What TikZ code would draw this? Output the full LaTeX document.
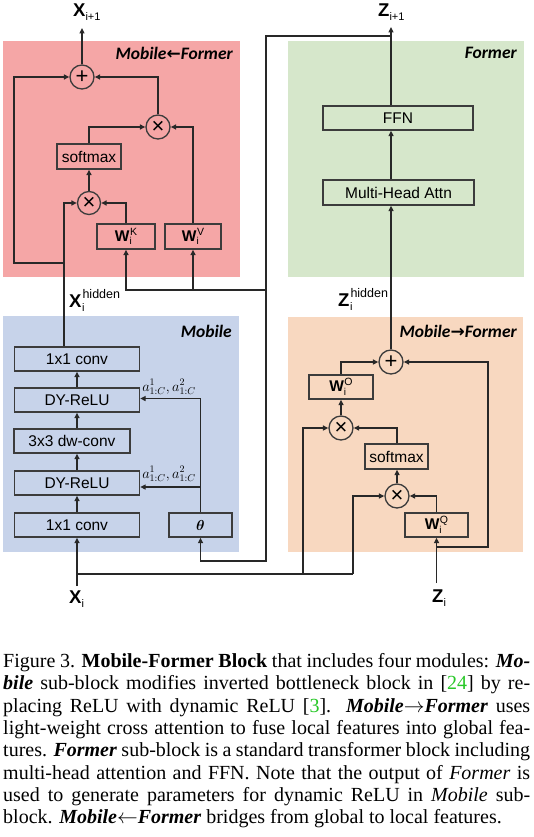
\documentclass[tikz,border=0pt]{standalone}
\usepackage{fontspec}
\setmainfont{Liberation Serif}
\newfontfamily\arial{Liberation Sans}
\newfontfamily\calib{Carlito}
\newfontfamily\djv{DejaVu Sans}
\usepackage{bm}
\usetikzlibrary{arrows.meta}
\definecolor{pinkbg}{RGB}{245,166,166}
\definecolor{greenbg}{RGB}{214,231,203}
\definecolor{bluebg}{RGB}{199,211,234}
\definecolor{peachbg}{RGB}{248,216,192}
\definecolor{linec}{RGB}{40,40,40}
\definecolor{boxc}{RGB}{60,60,60}
\definecolor{citegreen}{RGB}{40,200,40}
\newcommand{\vsub}[2]{{\bfseries #1}\raisebox{-4pt}{\fontsize{11}{11}\selectfont #2}}
\newcommand{\vsubsup}[3]{{\bfseries #1}\rlap{\raisebox{-4pt}{\fontsize{11}{11}\selectfont\kern0.5pt #2}}\raisebox{9pt}{\fontsize{12.5}{12.5}\selectfont\kern1pt #3}}
\newcommand{\wlab}[1]{{\bfseries W}\rlap{\raisebox{-3.5pt}{\fontsize{10}{10}\selectfont i}}\raisebox{6pt}{\fontsize{10.5}{10.5}\selectfont\kern0.5pt #1}}
\newcommand{\cg}[1]{\textcolor{citegreen}{#1}}
\newcommand{\bi}[1]{\textbf{\textit{#1}}}
\newcommand{\rarr}[1]{{\djv\bfseries\upshape\fontsize{17}{17}\selectfont #1}}
\begin{document}
\begin{tikzpicture}[x=1pt,y=-1pt,
  ln/.style={line width=1.3pt, draw=linec},
  arr/.style={ln, -{Triangle[length=5.5pt,width=5pt]}},
  blk/.style={draw=boxc, line width=1.3pt, inner sep=0pt, minimum height=24pt, font=\arial\fontsize{15.5}{18}\selectfont},
  op/.style={circle, draw=boxc, line width=1.3pt, inner sep=0pt, minimum size=24pt, font=\arial\fontsize{22}{22}\selectfont},
  region/.style={anchor=east, inner sep=0pt, font=\calib\bfseries\itshape\fontsize{17.5}{20}\selectfont},
  vlab/.style={anchor=base west, inner sep=0pt, font=\arial\fontsize{18.5}{20}\selectfont},
  alab/.style={inner sep=0pt, font=\fontsize{14.5}{16}\selectfont},
  capline/.style={anchor=base west, inner sep=0pt, font=\fontsize{20}{22}\selectfont},
]
\fill[white] (0,0) rectangle (534,837);
\useasboundingbox (0,0) rectangle (534,837);
% regions
\fill[pinkbg] (3,41) rectangle (240,277);
\fill[greenbg] (288,41) rectangle (524,277);
\fill[bluebg] (3,316) rectangle (239,552);
\fill[peachbg] (288,317) rectangle (523,552);
\node[region] (lblMF) at (233,53) {Mobile\rarr{←}Former};
\node[region] (lblF) at (517,53) {Former};
\node[region] (lblM) at (232,331) {Mobile};
\node[region] (lblMtF) at (517,331) {Mobile\rarr{→}Former};
% Mobile<-Former nodes
\node[op] (plusA) at (82,77) {+};
\node[op] (timesA2) at (158,127) {×};
\node[blk, minimum width=64pt, minimum height=25pt] (softA) at (89,156.5) {softmax};
\node[op, minimum size=23pt] (timesA1) at (89,203) {×};
\node[blk, minimum width=58pt, minimum height=25pt] (WK) at (126,236.5) {\wlab{K}};
\node[blk, minimum width=56pt, minimum height=25pt] (WV) at (193,236.5) {\wlab{V}};
% Former nodes
\node[blk, minimum width=150pt] (FFN) at (398,118) {FFN};
\node[blk, minimum width=151pt, minimum height=25pt] (MHA) at (398.5,192.5) {Multi-Head Attn};
% Mobile nodes
\node[blk, minimum width=125pt] (conv1) at (77,359) {1x1 conv};
\node[blk, minimum width=125pt] (dy1) at (77,400) {DY-ReLU};
\node[blk, minimum width=116pt] (dw) at (72,441) {3x3 dw-conv};
\node[blk, minimum width=125pt] (dy2) at (77,483) {DY-ReLU};
\node[blk, minimum width=125pt] (conv2) at (77,525) {1x1 conv};
\node[blk, minimum width=63pt] (theta) at (200.5,525) {$\bm{\theta}$};
% Mobile->Former nodes
\node[op] (plusB) at (391,362) {+};
\node[blk, minimum width=64pt] (WO) at (341,387) {\wlab{O}};
\node[op] (timesB2) at (341,428) {×};
\node[blk, minimum width=63pt, minimum height=25pt] (softB) at (396.5,456.5) {softmax};
\node[op] (timesB1) at (397,496) {×};
\node[blk, minimum width=63pt] (WQ) at (436.5,525) {\wlab{Q}};
% variable labels
\node[vlab] (Xip1) at (73,17) {\vsub{X}{i+1}};
\node[vlab] (Zip1) at (378,17) {\vsub{Z}{i+1}};
\node[vlab] (Xh) at (69,307) {\vsubsup{X}{i}{hidden}};
\node[vlab] (Zh) at (338,306) {\vsubsup{Z}{i}{hidden}};
\node[vlab] (Xi) at (69,603) {\vsub{X}{i}};
\node[vlab] (Zi) at (432,602) {\vsub{Z}{i}};
\node[alab] (a1) at (169,387) {$a^1_{1:C},a^2_{1:C}$};
\node[alab] (a2) at (169,474) {$a^1_{1:C},a^2_{1:C}$};
% coordinates
\coordinate (xtop) at (82,28);
\coordinate (ztop) at (391,27);
\coordinate (jZ) at (391,36);
\coordinate (jW) at (266,290);
\coordinate (jT) at (266,561);
\coordinate (jA) at (64,263);
\coordinate (xbot) at (77,586);
\coordinate (jX) at (77,574);
\coordinate (jX1) at (303,574);
\coordinate (jX2) at (353,574);
\coordinate (zbot) at (436.5,583);
\coordinate (jQ) at (436.5,547);
\coordinate (jTh) at (200.5,487);
% Mobile<-Former connectors
\draw[arr] (plusA.north) -- (xtop);
\draw[arr] (conv1.north -| jA) |- (timesA1.west);
\draw[arr] (jA) -- ++(-50,0) |- (plusA.west);
\draw[arr] (timesA1.north) -- (softA.south);
\draw[arr] (softA.north) |- (timesA2.west);
\draw[arr] (WK.north) |- (timesA1.east);
\draw[arr] (WV.north) |- (timesA2.east);
\draw[arr] (timesA2.north) |- (plusA.east);
% Former connectors
\draw[arr] (FFN.north -| ztop) -- (ztop);
\draw[arr] (MHA.north -| ztop) -- (FFN.south -| ztop);
\draw[arr] (plusB.north) -- (MHA.south -| plusB);
\draw[arr] (jZ) -| (jT) -| (theta.south);
\draw[arr] (jW) -| (WK.south);
\draw[arr] (jW) -| (WV.south);
% Mobile connectors
\draw[arr] (xbot) -- (conv2.south);
\draw[arr] (conv2.north) -- (dy2.south);
\draw[arr] (dy2.north) -- (dy2.north |- dw.south);
\draw[arr] (dw.north -| dy1) -- (dy1.south);
\draw[arr] (dy1.north) -- (conv1.south);
\draw[arr] (theta.north) |- ([yshift=1.5pt]dy1.east);
\draw[arr] (jTh) -- (jTh -| dy2.east);
% Mobile->Former connectors
\draw[ln] (jX) -- (jX2);
\draw[arr] (jX1) |- (timesB2.west);
\draw[arr] (jX2) |- (timesB1.west);
\draw[arr] (zbot) -- (WQ.south);
\draw[arr] (jQ) -- ++(51.5,0) |- (plusB.east);
\draw[arr] (WQ.north) |- (timesB1.east);
\draw[arr] (timesB1.north) -- (softB.south -| timesB1);
\draw[arr] (softB.north -| timesB1) |- (timesB2.east);
\draw[arr] (timesB2.north) -- (WO.south);
\draw[arr] (WO.north) |- (plusB.west);
% caption
\node[capline] (c1) at (3,667.5) {\makebox[527pt][s]{Figure 3. \textbf{Mobile-Former Block} that includes four modules: \bi{Mo-}}};
\node[capline] (c2) at (3,689.8) {\makebox[527pt][s]{\bi{bile} sub-block modifies inverted bottleneck block in [\cg{24}] by re-}};
\node[capline] (c3) at (3,712.1) {\makebox[527pt][s]{placing ReLU with dynamic ReLU [\cg{3}]. \bi{Mobile$\rightarrow$Former} uses}};
\node[capline] (c4) at (3,734.4) {\makebox[527pt][s]{light-weight cross attention to fuse local features into global fea-}};
\node[capline] (c5) at (3,756.7) {\makebox[527pt][s]{tures. \bi{Former} sub-block is a standard transformer block including}};
\node[capline] (c6) at (3,779) {\makebox[527pt][s]{multi-head attention and FFN. Note that the output of \textit{Former} is}};
\node[capline] (c7) at (3,801.3) {\makebox[527pt][s]{used to generate parameters for dynamic ReLU in \textit{Mobile} sub-}};
\node[capline] (c8) at (3,823.6) {block. \bi{Mobile$\leftarrow$Former} bridges from global to local features.};
\end{tikzpicture}
\end{document}
